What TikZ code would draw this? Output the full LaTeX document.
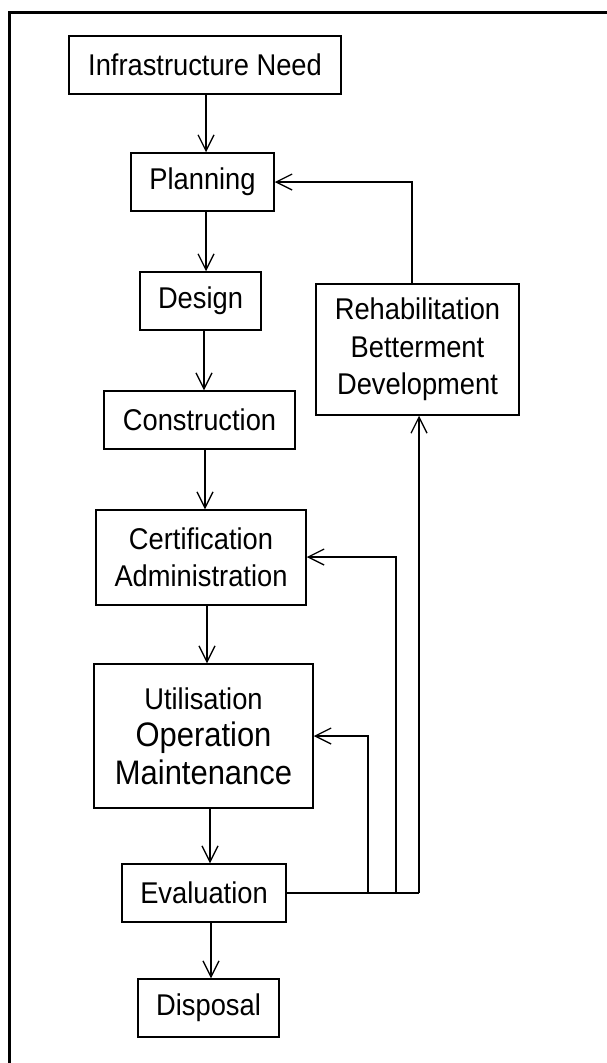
\documentclass[tikz,border=0pt]{standalone}
\usepackage{fontspec}
\setmainfont{Liberation Sans}[FakeStretch=0.91]
\usetikzlibrary{arrows.meta}
\begin{document}
\begin{tikzpicture}[x=1pt,y=-1pt,
  box/.style={draw,line width=1.5pt,inner sep=0pt,align=center,
    font=\fontsize{30}{37.5}\selectfont},
  arr/.style={line width=1.3pt,-{Straight Barb[length=16pt,width=16pt,line width=1.3pt]}},
  ln/.style={line width=1.3pt},
  frame/.style={line width=2.7pt}]
\useasboundingbox (0,0) rectangle (606,1063);
\draw[frame] (9.5,1080) -- (9.5,12.3) -- (620,12.3);
\node[box,minimum width=272pt,minimum height=58pt] (need) at (205,65) {Infrastructure Need};
\node[box,minimum width=143pt,minimum height=58pt] (plan) at (202.5,182) {Planning};
\node[box,minimum width=121pt,minimum height=58pt] (design) at (200.5,301) {Design};
\node[box,minimum width=203pt,minimum height=131pt] (rehab) at (417.5,349.5) {Rehabilitation\\Betterment\\Development};
\node[box,minimum width=191pt,minimum height=58pt] (constr) at (199.5,420) {Construction};
\node[box,minimum width=210pt,minimum height=95pt] (cert) at (201,557.5) {Certification\\Administration};
\node[box,minimum width=219pt,minimum height=144pt] (util) at (203.5,736) {Utilisation\\{\fontsize{34}{42}\selectfont Operation}\\{\fontsize{34}{41}\selectfont Maintenance}};
\node[box,minimum width=164pt,minimum height=58pt] (eval) at (204,893) {Evaluation};
\node[box,minimum width=141pt,minimum height=58pt] (disp) at (208.5,1008) {Disposal};
% main flow
\draw[arr] (need.south -| 206,0) -- (plan.north -| 206,0);
\draw[arr] (plan.south -| 206,0) -- (design.north -| 206,0);
\draw[arr] (design.south -| 204,0) -- (constr.north -| 204,0);
\draw[arr] (constr.south -| 205,0) -- (cert.north -| 205,0);
\draw[arr] (cert.south -| 207,0) -- (util.north -| 207,0);
\draw[arr] (util.south -| 210,0) -- (eval.north -| 210,0);
\draw[arr] (eval.south -| 211,0) -- (disp.north -| 211,0);
% feedback
\coordinate (j1) at (368,893);
\coordinate (j2) at (396,893);
\coordinate (j3) at (419,893);
\draw[ln] (eval.east) -- (j3);
\draw[arr] (j3) -- (rehab.south -| j3);
\draw[arr] (j1) -- (368,736) -- (util.east |- 0,736);
\draw[arr] (j2) -- (396,557) -- (cert.east |- 0,557);
\draw[arr] (rehab.north -| 412,0) -- (412,182) -- (plan.east);
\end{tikzpicture}
\end{document}
